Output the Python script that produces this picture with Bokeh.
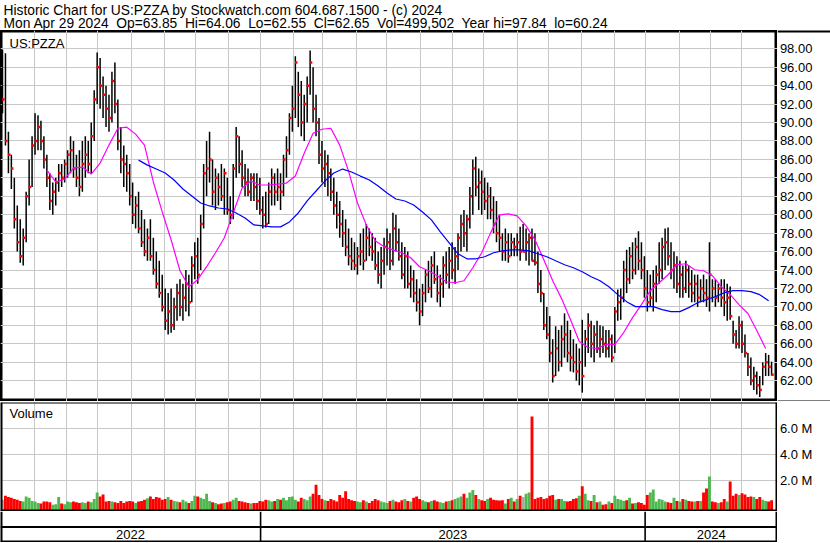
import pandas as pd
from bokeh.plotting import figure
from bokeh.models import ColumnDataSource, Range1d, FixedTicker, Spacer
from bokeh.layouts import column, row
from bokeh.embed import file_html
from bokeh.resources import INLINE
from bokeh.core.properties import value

# ---------------- data ----------------
SYMBOL = "US:PZZA"
HEADER_1 = "Historic Chart for US:PZZA by Stockwatch.com 604.687.1500 - (c) 2024"
HEADER_2 = ("Mon Apr 29 2024\u00a0 Op=63.85\u00a0 Hi=64.06\u00a0 Lo=62.55\u00a0 Cl=62.65\u00a0 "
            "Vol=499,502\u00a0 Year hi=97.84\u00a0 lo=60.24")
START_DATE = "2022-05-02"
END_DATE = "2024-04-29"
SAMPLE_STEP = 2          # business days per drawn bar

HIGH = [
    97.9, 97.5, 89.0, 86.5, 84.0, 81.0, 79.5, 78.5, 82.5, 86.0,
    88.5, 91.0, 90.8, 90.2, 88.5, 86.5, 84.5, 83.5, 84.0, 85.5,
    85.5, 86.0, 87.0, 88.5, 88.0, 86.5, 87.0, 88.0, 88.5, 88.0,
    90.0, 93.5, 97.6, 97.0, 95.0, 94.0, 93.0, 95.5, 96.5, 92.5,
    89.5, 87.5, 86.5, 85.5, 83.5, 82.0, 82.5, 80.5, 79.5, 78.5,
    79.5, 77.5, 76.0, 75.0, 73.5, 72.0, 71.5, 72.0, 71.0, 72.5,
    73.0, 72.5, 74.0, 73.5, 75.5, 77.0, 77.5, 80.0, 85.5, 88.0,
    89.0, 86.0, 85.0, 84.5, 85.5, 85.0, 84.0, 82.0, 85.5, 89.5,
    88.5, 87.0, 85.5, 85.0, 84.5, 84.5, 84.5, 84.0, 82.0, 82.5,
    83.5, 85.0, 84.5, 85.0, 84.5, 86.5, 88.5, 91.0, 94.0, 97.2,
    95.5, 94.5, 93.0, 95.0, 97.8, 96.0, 93.0, 90.5, 88.0, 87.0,
    86.5, 85.0, 84.0, 82.5, 81.5, 80.5, 79.5, 78.5, 77.5, 77.0,
    76.5, 78.0, 78.5, 79.0, 78.5, 78.0, 77.5, 76.0, 76.5, 77.5,
    78.5, 78.0, 80.2, 80.0, 78.5, 77.0, 76.5, 76.0, 74.5, 74.0,
    73.0, 72.0, 72.5, 74.0, 75.0, 75.5, 76.0, 74.5, 73.5, 75.5,
    76.0, 76.5, 77.0, 76.5, 78.0, 80.0, 80.5, 80.0, 83.0, 86.0,
    86.3, 85.0, 84.8, 84.0, 83.5, 83.0, 82.0, 81.5, 80.0, 78.0,
    78.5, 78.0, 78.0, 77.5, 78.0, 78.7, 79.0, 78.5, 78.0, 78.5,
    78.0, 76.0, 74.0, 71.5, 70.0, 69.0, 66.5, 67.9, 67.5, 68.0,
    69.3, 68.5, 67.5, 66.5, 66.0, 65.5, 68.6, 67.5, 69.3, 68.5,
    68.0, 68.5, 68.0, 67.9, 67.5, 67.5, 67.0, 70.0, 71.9, 72.0,
    75.0, 76.2, 76.5, 77.0, 77.5, 78.2, 77.0, 75.5, 74.0, 73.5,
    74.0, 74.5, 77.0, 77.5, 78.5, 78.6, 77.0, 76.0, 75.5, 75.0,
    74.5, 75.0, 74.5, 74.0, 73.5, 73.5, 73.0, 73.5, 73.0, 77.0,
    73.0, 73.0, 72.5, 73.0, 73.0, 72.5, 72.2, 68.5, 67.5, 69.0,
    68.5, 67.0, 65.0, 64.5, 63.5, 63.0, 62.5, 64.0, 65.0, 64.8,
    64.06,
]
LOW = [
    91.0, 87.5, 84.5, 82.8, 78.5, 76.0, 74.8, 74.5, 77.0, 81.0,
    83.0, 86.5, 87.0, 87.0, 85.0, 83.0, 80.5, 80.0, 81.0, 82.5,
    83.0, 83.5, 84.0, 84.5, 84.0, 83.0, 82.0, 82.5, 84.0, 84.5,
    84.5, 88.0, 92.0, 91.5, 90.5, 89.5, 89.0, 90.0, 91.0, 87.0,
    84.5, 83.0, 82.5, 81.0, 79.0, 78.5, 78.0, 76.5, 75.5, 75.0,
    75.0, 73.5, 72.0, 71.0, 69.5, 67.5, 67.0, 67.2, 67.5, 68.5,
    69.0, 68.5, 69.5, 69.0, 70.5, 73.0, 72.5, 74.0, 78.5, 82.0,
    83.5, 81.0, 80.5, 81.0, 81.5, 80.0, 80.0, 79.0, 79.5, 84.0,
    84.5, 83.0, 82.0, 82.0, 81.5, 81.5, 80.5, 80.0, 78.5, 78.6,
    79.0, 81.0, 81.0, 81.5, 80.5, 82.0, 84.0, 86.5, 89.0, 90.5,
    89.5, 88.5, 88.0, 90.0, 93.0, 90.0, 88.5, 85.5, 83.5, 83.0,
    82.0, 81.5, 80.0, 78.5, 77.5, 76.5, 75.5, 74.5, 74.0, 74.0,
    73.5, 74.5, 74.0, 75.0, 75.5, 75.0, 74.0, 72.5, 72.0, 73.5,
    74.5, 74.0, 74.5, 76.0, 75.0, 73.0, 72.0, 72.0, 71.0, 70.5,
    69.5, 68.0, 69.0, 70.5, 71.5, 71.0, 72.5, 70.5, 70.0, 71.0,
    72.5, 72.0, 73.0, 72.5, 74.0, 76.0, 76.5, 76.0, 78.5, 80.0,
    82.0, 80.5, 80.0, 80.5, 79.5, 79.5, 78.0, 77.0, 76.0, 75.0,
    75.0, 74.8, 75.5, 75.5, 75.5, 75.0, 76.0, 75.0, 74.5, 75.0,
    74.5, 71.5, 70.5, 67.5, 66.5, 64.0, 61.8, 62.5, 63.0, 63.5,
    64.5, 64.0, 63.0, 62.9, 62.0, 61.5, 60.7, 63.5, 65.0, 64.5,
    64.0, 65.0, 64.5, 65.0, 64.5, 64.5, 64.0, 65.0, 68.5, 68.6,
    70.5, 71.5, 72.5, 73.0, 73.5, 74.0, 73.0, 71.0, 69.5, 70.0,
    69.5, 70.5, 72.5, 73.0, 74.0, 74.5, 73.0, 72.0, 71.5, 71.0,
    71.0, 71.5, 71.0, 70.5, 70.5, 70.0, 70.5, 70.5, 70.0, 69.5,
    70.5, 70.0, 70.5, 70.0, 69.0, 68.5, 68.6, 66.0, 65.5, 65.5,
    65.0, 64.5, 62.5, 61.5, 61.0, 60.5, 60.24, 61.5, 62.5, 62.5,
    62.55,
]
CLOSE = [
    92.5, 88.0, 86.5, 85.0, 79.5, 77.0, 75.5, 77.5, 82.0, 83.0,
    87.5, 88.0, 89.5, 88.0, 86.0, 84.0, 81.5, 82.5, 83.5, 84.5,
    84.0, 85.5, 86.5, 87.0, 85.0, 84.0, 83.0, 85.5, 86.5, 85.5,
    88.5, 92.5, 96.0, 94.0, 93.0, 91.5, 90.5, 94.5, 92.0, 88.0,
    86.0, 85.5, 84.5, 82.0, 80.0, 81.0, 78.5, 77.0, 76.0, 77.5,
    75.5, 74.0, 72.5, 71.5, 70.0, 68.5, 69.5, 68.0, 70.0, 71.5,
    70.0, 71.0, 72.5, 70.5, 74.5, 75.5, 73.5, 79.0, 84.5, 85.0,
    86.0, 82.5, 84.0, 83.0, 82.0, 84.5, 80.5, 80.0, 85.0, 88.5,
    85.5, 84.0, 83.5, 82.5, 84.0, 83.0, 81.5, 80.5, 80.0, 79.0,
    82.5, 84.0, 82.5, 83.0, 82.5, 86.0, 87.0, 90.5, 91.5, 96.5,
    93.0, 90.0, 92.0, 94.0, 96.5, 91.5, 90.0, 86.5, 85.0, 85.5,
    84.5, 82.5, 81.0, 80.0, 79.0, 78.0, 76.5, 75.5, 75.0, 74.5,
    75.5, 76.0, 75.0, 77.5, 76.5, 76.0, 74.5, 73.5, 75.0, 76.5,
    77.0, 75.0, 78.5, 77.0, 75.5, 73.5, 75.5, 72.5, 73.0, 71.5,
    70.5, 69.5, 71.5, 73.5, 72.0, 74.5, 73.0, 71.5, 72.5, 74.5,
    73.5, 75.0, 74.0, 75.5, 77.5, 79.0, 78.0, 79.5, 82.0, 85.0,
    83.0, 83.5, 82.5, 81.5, 82.0, 80.5, 79.0, 78.0, 77.5, 76.0,
    77.0, 75.5, 77.0, 76.5, 77.0, 76.0, 76.0, 77.0, 77.5, 75.0,
    74.8, 72.5, 71.5, 68.0, 67.0, 65.0, 62.5, 65.5, 64.0, 66.5,
    67.0, 65.0, 64.5, 64.0, 63.0, 64.0, 62.5, 66.5, 68.0, 66.0,
    67.0, 65.5, 66.5, 66.0, 65.5, 66.5, 64.5, 69.5, 70.5, 71.0,
    74.0, 73.0, 75.5, 74.0, 76.5, 75.0, 74.0, 72.0, 70.5, 71.0,
    72.5, 73.5, 74.0, 76.5, 77.0, 75.5, 74.0, 74.5, 72.5, 73.5,
    72.0, 74.0, 72.5, 71.5, 72.5, 71.0, 72.0, 71.5, 71.0, 73.5,
    72.0, 71.0, 72.0, 71.0, 70.5, 71.0, 69.0, 67.0, 66.0, 68.0,
    66.0, 65.0, 63.5, 62.0, 62.5, 61.5, 61.0, 63.5, 64.0, 63.5,
    62.65,
]
VOLUME_M = [
    0.55, 0.85, 0.75, 0.7, 0.6, 0.55, 0.45, 0.4, 0.8, 0.7,
    0.45, 0.4, 0.3, 0.25, 0.4, 0.4, 0.35, 0.15, 0.2, 0.75,
    0.25, 0.2, 0.4, 0.35, 0.4, 0.35, 0.3, 0.35, 0.3, 0.4,
    0.35, 0.6, 1.1, 0.8, 0.95, 0.4, 0.45, 0.4, 0.35, 0.3,
    0.45, 0.3, 0.4, 0.45, 0.4, 0.3, 0.4, 0.45, 0.55, 0.65,
    0.8, 0.6, 0.75, 0.7, 0.55, 0.6, 0.75, 0.55, 0.45, 0.4,
    0.35, 0.55, 0.4, 0.3, 0.45, 0.85, 0.8, 0.7, 0.6, 1.0,
    0.45, 0.35, 0.3, 0.2, 0.25, 0.3, 0.35, 0.4, 0.55, 0.7,
    0.45, 0.4, 0.35, 0.3, 0.25, 0.3, 0.3, 0.45, 0.4, 0.55,
    0.5, 0.4, 0.45, 0.6, 0.55, 0.7, 0.5, 0.75, 0.8, 0.55,
    0.4, 0.7, 0.6, 0.5, 0.8, 1.0, 1.7, 0.9, 0.6, 0.5,
    0.45, 0.6, 0.5, 0.4, 0.9, 0.7, 1.2, 0.6, 0.5, 0.45,
    0.4, 0.35, 0.5, 0.4, 0.3, 0.45, 0.6, 0.5, 0.4, 0.35,
    0.3, 0.45, 0.55, 0.4, 0.35, 0.5, 0.6, 0.45, 0.4, 0.7,
    0.8, 0.6, 0.5, 0.4, 0.35, 0.45, 0.5, 0.4, 0.35, 0.3,
    0.4, 0.45, 0.5, 0.6, 0.7, 0.8, 1.0, 0.7, 1.1, 1.3,
    0.9, 0.6, 0.5, 0.45, 0.6, 0.7, 0.55, 0.5, 0.48, 0.5,
    0.25, 0.6, 0.7, 0.4, 0.6, 0.85, 0.75, 1.0, 1.1, 6.95,
    0.6, 0.7, 0.75, 0.6, 0.65, 0.85, 0.9, 0.55, 0.6, 0.6,
    0.45, 0.4, 0.45, 0.6, 0.65, 0.85, 1.58, 1.0, 0.5, 0.45,
    0.9, 0.35, 0.4, 0.15, 0.2, 0.4, 0.3, 0.85, 0.6, 0.55,
    0.45, 0.5, 0.7, 0.25, 0.3, 0.35, 0.3, 0.15, 0.9, 1.1,
    1.33, 0.4, 0.6, 0.55, 0.4, 0.35, 0.3, 0.7, 0.45, 0.4,
    0.6, 0.55, 0.45, 0.4, 0.4, 0.45, 0.45, 1.1, 1.4, 2.33,
    0.4, 0.35, 0.3, 0.35, 0.6, 0.4, 1.95, 0.85, 1.0, 0.9,
    1.05, 0.95, 0.75, 0.8, 0.75, 0.6, 0.75, 0.55, 0.45, 0.4,
    0.5,
]
MA_STEP = 3              # bars between stored moving-average readings
MA_FAST_START = 15
MA_FAST = [
    84.84, 83.55, 83.87, 85.06, 85.17, 84.41, 85.60, 87.55, 89.38, 89.49,
    88.74, 87.55, 83.55, 80.30, 77.28, 73.92, 72.19, 72.95, 74.36, 75.87,
    77.50, 80.20, 82.90, 83.65, 83.22, 83.22, 83.32, 83.43, 84.19, 86.67,
    88.84, 89.27, 89.38, 87.55, 84.73, 81.27, 78.89, 77.17, 76.52, 76.19,
    75.87, 75.33, 74.36, 73.92, 73.38, 72.73, 72.62, 72.84, 74.25, 75.87,
    78.03, 79.98, 80.09, 79.87, 78.79, 77.28, 75.12, 72.84, 70.90, 68.63,
    66.25, 65.60, 65.49, 65.93, 65.93, 67.22, 68.84, 70.25, 71.76, 72.62,
    73.49, 74.57, 74.68, 74.03, 73.92, 73.38, 72.19, 71.33, 70.25, 69.28,
    67.44, 65.49,
]
MA_SLOW_START = 46
MA_SLOW = [
    85.92, 85.38, 84.95, 84.52, 83.76, 82.79, 82.03, 81.27, 80.95, 80.73,
    80.62, 80.19, 79.65, 78.89, 78.78, 78.68, 78.68, 79.22, 80.19, 81.49,
    82.57, 83.65, 84.52, 84.95, 84.63, 84.19, 83.76, 83.11, 82.35, 81.70,
    81.49, 81.06, 80.30, 79.44, 78.14, 76.95, 75.76, 75.22, 75.22, 75.44,
    75.87, 76.08, 76.19, 76.19, 76.08, 75.76, 75.44, 75.00, 74.57, 74.25,
    73.81, 73.27, 72.84, 72.19, 71.33, 70.57, 70.03, 70.03, 70.03, 69.71,
    69.49, 69.49, 69.92, 70.46, 70.79, 71.11, 71.54, 71.76, 71.76, 71.65,
    71.33, 70.68,
]
PRICE_TICKS = [62, 64, 66, 68, 70, 72, 74, 76, 78, 80, 82, 84, 86, 88, 90, 92, 94, 96, 98]
VOLUME_TICKS = [2, 4, 6]

# ---------------- derived positions ----------------
days = pd.bdate_range(START_DATE, END_DATE)
n = len(CLOSE)
xs = [i * SAMPLE_STEP for i in range(n)]
colors = []
for i in range(n):
    if i == 0 or CLOSE[i] == CLOSE[i - 1]:
        colors.append("#a8a8a8")
    elif CLOSE[i] > CLOSE[i - 1]:
        colors.append("#50b850")
    else:
        colors.append("#ff0000")

month_ticks = [i - 0.5 for i in range(1, len(days)) if days[i].month != days[i - 1].month]
year_ticks = [i - 0.5 for i in range(1, len(days)) if days[i].year != days[i - 1].year]

FONT = "Liberation Sans"
W_MAIN, W_LBL = 777, 53
H_HEAD, H_PRICE, H_VOL, H_AX = 30, 371, 110, 31
GRID = "#c8c8c8"

x_rng = Range1d(-1.35, 524.0)
price_y = Range1d(59.74, 99.98)
vol_y = Range1d(-0.36, 8.02)
X_PER_PX = (x_rng.end - x_rng.start) / W_MAIN


def make_fig(w, h, xr, yr, top=0):
    p = figure(width=w, height=h, x_range=xr, y_range=yr, output_backend="svg",
               toolbar_location=None, x_axis_location=None, y_axis_location=None,
               min_border=0, min_border_top=top,
               background_fill_color="white", border_fill_color="white")
    p.outline_line_color = None
    p.xgrid.visible = False
    p.ygrid.visible = False
    return p


def txt(p, x, y, s, size="13px", align="left"):
    p.text(x=x, y=y, text=s, text_font=value(FONT), text_font_size=value(size),
           text_color="black", text_align=align, text_baseline="middle")


# header (y measured in pixel rows from the top)
head = make_fig(W_MAIN + W_LBL, H_HEAD, Range1d(0, W_MAIN + W_LBL), Range1d(H_HEAD, 0))
txt(head, [3, 3], [9.6, 23.0], [HEADER_1, HEADER_2], size="13.8px")

# price panel
pp = make_fig(W_MAIN, H_PRICE, x_rng, price_y)
pp.xgrid.visible = True
pp.ygrid.visible = True
pp.xgrid.ticker = FixedTicker(ticks=month_ticks)
pp.ygrid.ticker = FixedTicker(ticks=PRICE_TICKS)
pp.grid.grid_line_color = GRID
pp.grid.grid_line_width = 1
pp.outline_line_color = "black"
pp.outline_line_width = 4
src = ColumnDataSource(dict(x=xs, xc=[x + 0.6 for x in xs], high=HIGH, low=LOW, close=CLOSE,
                            vol=VOLUME_M, color=colors))
pp.segment(x0="x", y0="low", x1="x", y1="high", source=src, line_color="black", line_width=1.5)
pp.scatter(x="xc", y="close", source=src, marker="square", size=2.5,
           fill_color="#ff0000", line_color=None)
pp.line([SAMPLE_STEP * (MA_FAST_START + MA_STEP * k) for k in range(len(MA_FAST))], MA_FAST,
        line_color="#ff00ff", line_width=1.2)
pp.line([SAMPLE_STEP * (MA_SLOW_START + MA_STEP * k) for k in range(len(MA_SLOW))], MA_SLOW,
        line_color="#0000ff", line_width=1.2)
py_per_px = (price_y.end - price_y.start) / H_PRICE
txt(pp, [x_rng.start + 9 * X_PER_PX], [price_y.end - 12.6 * py_per_px], [SYMBOL])

# price labels
pl = make_fig(W_LBL, H_PRICE, Range1d(0, 1), price_y)
pl.segment(x0=[0, 0], y0=[price_y.end, price_y.start], x1=[1, 1], y1=[price_y.end, price_y.start],
           line_color="black", line_width=[4, 2])
txt(pl, [0.045] * len(PRICE_TICKS), PRICE_TICKS, [f"{t:.2f}" for t in PRICE_TICKS])

# volume panel
vp = make_fig(W_MAIN, H_VOL, x_rng, vol_y, top=1)
vp.xgrid.visible = True
vp.ygrid.visible = True
vp.xgrid.ticker = FixedTicker(ticks=month_ticks)
vp.ygrid.ticker = FixedTicker(ticks=VOLUME_TICKS)
vp.grid.grid_line_color = GRID
vp.grid.grid_line_width = 1
vp.vbar(x="x", top="vol", bottom=vol_y.start, width=SAMPLE_STEP * 0.98, source=src,
        fill_color="color", line_color=None)
vp.segment(x0=[x_rng.start, x_rng.end, x_rng.start, x_rng.start],
           y0=[vol_y.start, vol_y.start, vol_y.start, vol_y.end],
           x1=[x_rng.start, x_rng.end, x_rng.end, x_rng.end],
           y1=[vol_y.end, vol_y.end, vol_y.start, vol_y.end],
           line_color="black", line_width=[4, 4, 4, 2])
vy_per_px = (vol_y.end - vol_y.start) / (H_VOL - 1)
txt(vp, [x_rng.start + 9 * X_PER_PX], [vol_y.end - 11.3 * vy_per_px], ["Volume"])

vl = make_fig(W_LBL, H_VOL, Range1d(0, 1), vol_y, top=1)
txt(vl, [0.045] * len(VOLUME_TICKS), VOLUME_TICKS, [f"{t:.1f} M" for t in VOLUME_TICKS])

# date band
ax = make_fig(W_MAIN, H_AX, x_rng, Range1d(0, 1))
ax.segment(x0=[x_rng.start, x_rng.end, x_rng.start, x_rng.start],
           y0=[0, 0, 0, 0.5],
           x1=[x_rng.start, x_rng.end, x_rng.end, x_rng.end],
           y1=[1, 1, 0, 0.5], line_color="black", line_width=[4, 4, 4, 2])
ax.segment(x0=year_ticks, y0=[0] * len(year_ticks), x1=year_ticks, y1=[1] * len(year_ticks),
           line_color="black", line_width=1.6)
bounds = [x_rng.start] + year_ticks + [x_rng.end]
years = [days[0].year + k for k in range(len(bounds) - 1)]
centers = [(bounds[k] + bounds[k + 1]) / 2 for k in range(len(years))]
txt(ax, centers, [1 - 23.0 / H_AX] * len(years), [str(y) for y in years], align="center")

layout = column(head, row(pp, pl), row(vp, vl), row(ax, Spacer(width=W_LBL, height=H_AX)))
open("out.html", "w").write(file_html(layout, INLINE))
